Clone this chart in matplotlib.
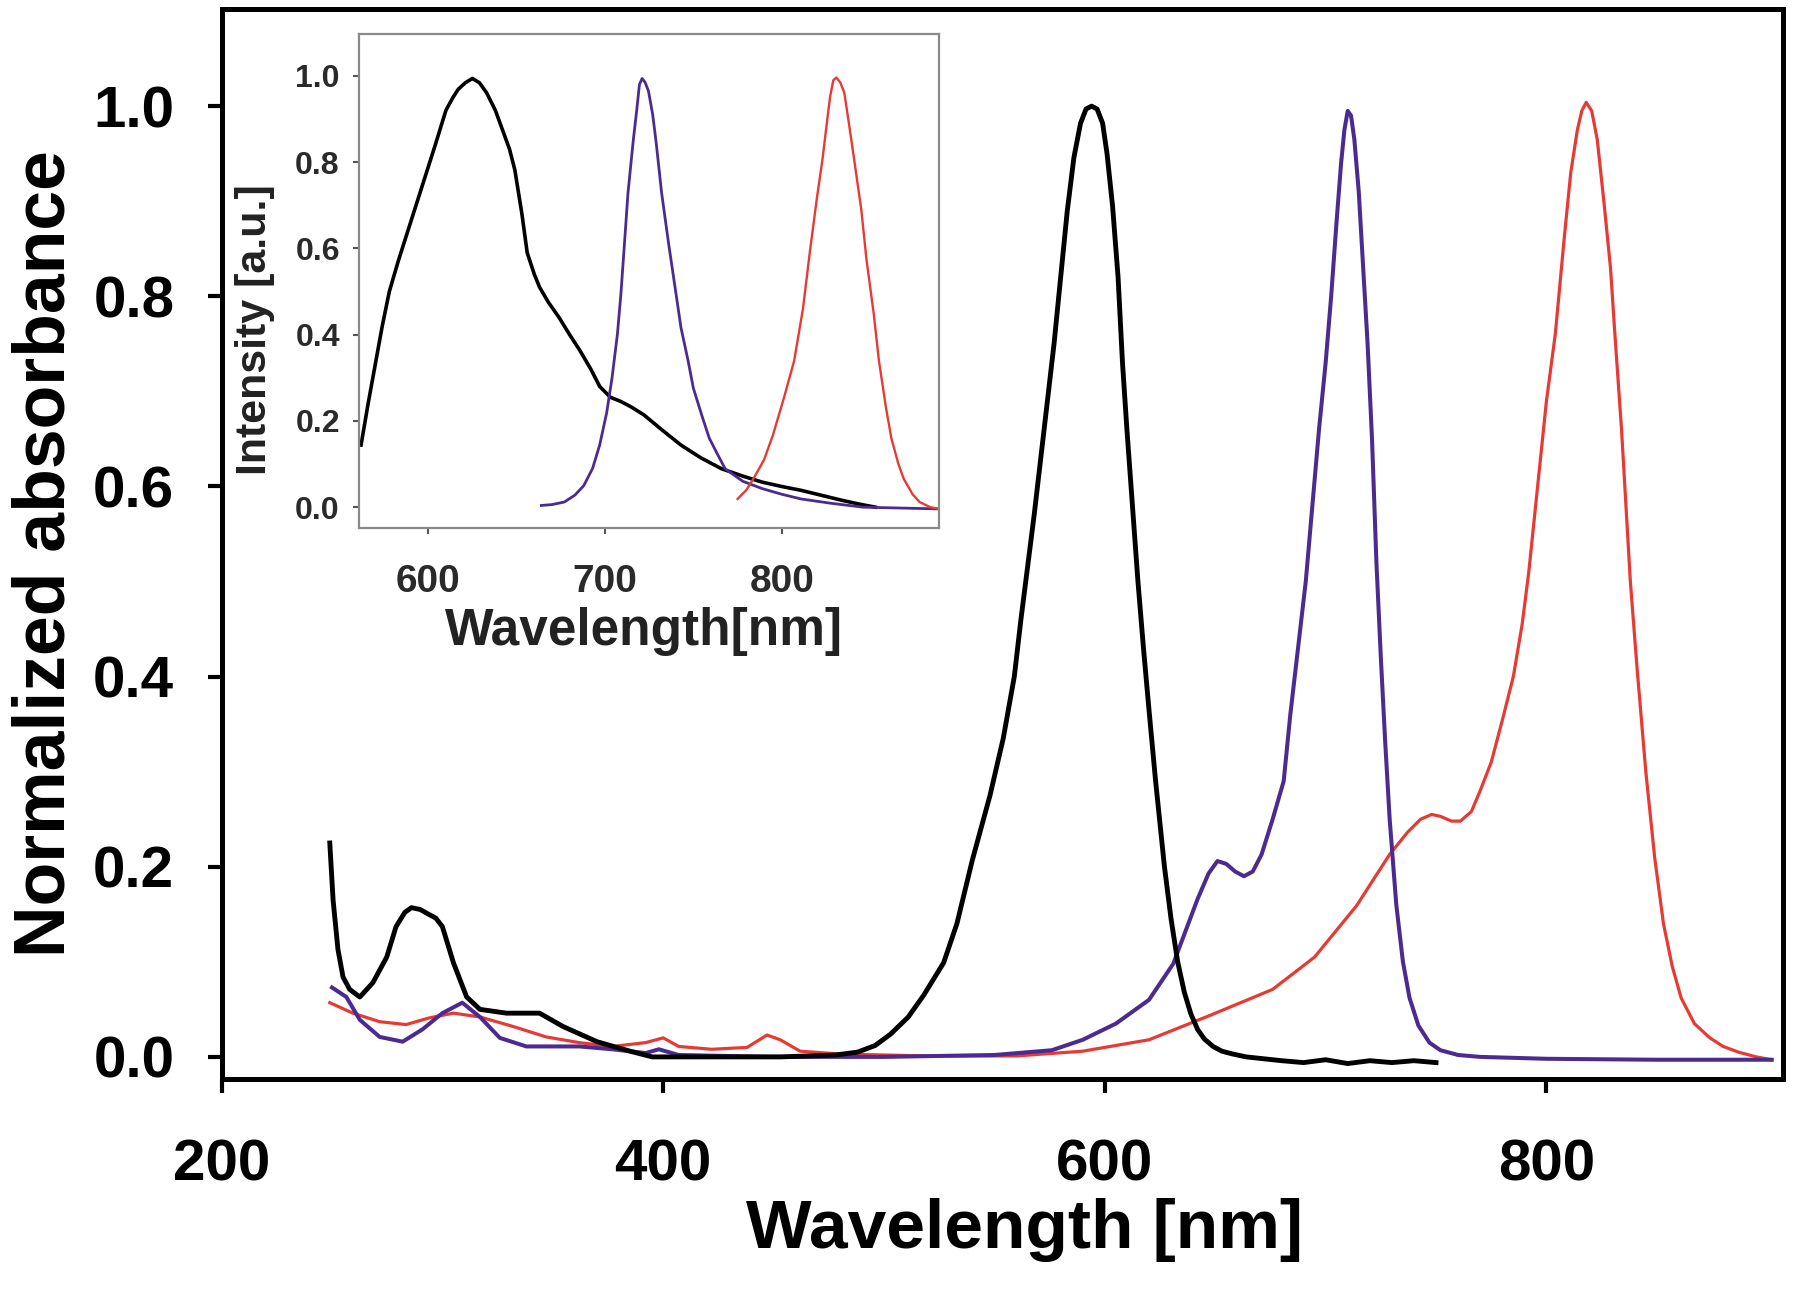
import matplotlib
matplotlib.use("Agg")
import matplotlib.pyplot as plt
from matplotlib.ticker import FormatStrFormatter

plt.rcParams['font.family'] = ['Liberation Sans', 'DejaVu Sans']

# main plot: normalized absorbance
black_x = [249, 250.5, 252.7, 255, 258, 262.6, 268.5, 274.8, 279, 283, 286, 290, 293, 297, 300,
           305, 311, 317, 329, 344, 354.6, 370, 385, 395, 422, 453, 478, 488, 496, 503, 511,
           518, 527, 533, 540, 548, 554, 559, 562, 565, 568, 571, 574, 577, 580, 583, 586, 589,
           591.5, 594, 596.5, 599, 601, 603.5, 606, 608, 610, 612.5, 615, 617.5, 620, 623, 627,
           630, 633, 636, 639, 642, 645, 649, 653, 658, 664, 680, 690, 700, 710, 720, 730, 740,
           750]
black_y = [0.225, 0.165, 0.113, 0.084, 0.071, 0.063, 0.078, 0.105, 0.137, 0.152, 0.157, 0.155,
           0.151, 0.146, 0.137, 0.099, 0.063, 0.05, 0.046, 0.046, 0.032, 0.016, 0.006, 0.0,
           0.0, 0.0, 0.002, 0.005, 0.012, 0.024, 0.042, 0.065, 0.099, 0.14, 0.207, 0.275,
           0.335, 0.40, 0.46, 0.515, 0.57, 0.63, 0.69, 0.75, 0.82, 0.89, 0.946, 0.982, 0.997,
           1.0, 0.997, 0.982, 0.95, 0.895, 0.82, 0.73, 0.66, 0.58, 0.5, 0.43, 0.365, 0.29, 0.2,
           0.145, 0.1, 0.068, 0.045, 0.029, 0.019, 0.011, 0.006, 0.003, 0.0, -0.004, -0.006,
           -0.003, -0.007, -0.004, -0.006, -0.004, -0.006]

blue_x = [250, 256.5, 262.6, 271.6, 282, 291, 300, 309, 317, 326, 338, 350, 362, 377, 392, 398,
          407, 450, 500, 550, 576, 590, 605, 620, 631, 642, 647, 651, 655, 659, 663, 667, 671,
          676, 681, 684, 688, 691, 694, 697, 700, 702.5, 705, 707, 708.5, 710, 711.5, 713, 715,
          717, 719, 721, 723, 725, 727, 729, 732, 735, 738, 742, 747, 752, 760, 770, 800, 850,
          902]
blue_y = [0.073, 0.063, 0.039, 0.021, 0.016, 0.029, 0.046, 0.057, 0.042, 0.02, 0.011, 0.011,
          0.011, 0.008, 0.004, 0.008, 0.002, 0.0, 0.0, 0.002, 0.007, 0.018, 0.035, 0.06, 0.098,
          0.166, 0.193, 0.206, 0.203, 0.195, 0.19, 0.195, 0.213, 0.25, 0.29, 0.36, 0.44, 0.5,
          0.58, 0.66, 0.73, 0.8, 0.88, 0.94, 0.975, 0.995, 0.99, 0.965, 0.91, 0.83, 0.75, 0.65,
          0.52, 0.42, 0.33, 0.25, 0.16, 0.1, 0.062, 0.033, 0.015, 0.007, 0.002, 0.0, -0.002,
          -0.003, -0.003]

red_x = [249, 259.5, 271.6, 283.6, 294, 305, 317, 332, 347, 362, 377, 392, 400, 407, 422, 438,
         447, 453, 462, 480, 520, 560, 590, 620, 648, 676, 695, 714, 729, 737, 743, 748, 752,
         757, 761, 766, 770, 775, 780, 785, 789, 792, 796, 800, 804, 808, 811, 814, 816, 818,
         820.5, 823, 826, 829, 831, 834, 838, 841, 845, 849, 853, 857, 861, 867, 874, 880, 887,
         895, 902]
red_y = [0.057, 0.046, 0.037, 0.034, 0.041, 0.046, 0.042, 0.032, 0.021, 0.015, 0.011, 0.015,
         0.02, 0.011, 0.008, 0.01, 0.023, 0.018, 0.006, 0.003, 0.001, 0.001, 0.006, 0.018,
         0.044, 0.071, 0.105, 0.159, 0.213, 0.236, 0.25, 0.255, 0.253, 0.248, 0.248, 0.258,
         0.28, 0.31, 0.354, 0.40, 0.455, 0.51, 0.6, 0.69, 0.76, 0.86, 0.93, 0.975, 0.995,
         1.004, 0.995, 0.965, 0.9, 0.83, 0.76, 0.66, 0.5, 0.41, 0.3, 0.21, 0.14, 0.095, 0.062,
         0.035, 0.02, 0.011, 0.005, 0.0, -0.003]

# inset: emission intensity
ins_black_x = [562, 566, 570, 574, 578, 583, 590, 597, 604, 610, 614, 617, 621, 625, 629, 633,
               638, 642, 646, 649, 653, 656, 660, 663, 668, 674, 680, 686, 692, 697, 703, 709,
               715, 722, 732, 743, 754, 766, 778, 789, 800, 811, 822, 834, 844, 853]
ins_black_y = [0.144, 0.24, 0.33, 0.42, 0.5, 0.57, 0.66, 0.75, 0.84, 0.92, 0.95, 0.969, 0.984,
               0.994, 0.984, 0.961, 0.92, 0.875, 0.83, 0.782, 0.68, 0.59, 0.54, 0.51, 0.475,
               0.44, 0.40, 0.362, 0.32, 0.28, 0.255, 0.245, 0.232, 0.214, 0.18, 0.144, 0.115,
               0.089, 0.072, 0.058, 0.048, 0.039, 0.028, 0.016, 0.007, 0.0]

ins_blue_x = [664, 670, 677, 683, 688, 693, 697, 701, 704, 707, 709, 711, 713, 716, 718, 719.5,
              721, 722.7, 724.6, 727, 729, 732, 736, 740, 743, 747, 750, 755, 759, 764, 768,
              778, 789, 800, 811, 828, 846, 889]
ins_blue_y = [0.004, 0.006, 0.012, 0.028, 0.05, 0.09, 0.144, 0.22, 0.30, 0.40, 0.494, 0.61,
              0.728, 0.85, 0.922, 0.98, 0.994, 0.985, 0.965, 0.91, 0.844, 0.73, 0.611, 0.5,
              0.416, 0.34, 0.276, 0.21, 0.16, 0.12, 0.089, 0.06, 0.043, 0.03, 0.019, 0.009,
              0.0, -0.004]

ins_red_x = [775, 780, 784, 790, 795, 801, 807, 812, 816, 820, 823, 825.5, 827.4, 829.2, 830.9,
             833.1, 835.4, 838, 841, 845, 848, 852, 855, 859, 862, 866, 869, 874, 878, 884, 889]
ins_red_y = [0.019, 0.04, 0.066, 0.11, 0.167, 0.25, 0.339, 0.46, 0.595, 0.72, 0.805, 0.89,
             0.953, 0.99, 0.996, 0.985, 0.961, 0.89, 0.805, 0.69, 0.572, 0.45, 0.339, 0.23,
             0.16, 0.1, 0.066, 0.03, 0.012, 0.0, -0.004]

main_xticks = [200, 400, 600, 800]
main_yticks = [0.0, 0.2, 0.4, 0.6, 0.8, 1.0]
ins_xticks = [600, 700, 800]
ins_yticks = [0.0, 0.2, 0.4, 0.6, 0.8, 1.0]

blue_c = '#4b2b8f'
red_c = '#e63b34'

fig = plt.figure(figsize=(18, 12.91), dpi=100)

ax = fig.add_axes([0.1231, 0.1644, 0.8673, 0.8285])
ax.plot(red_x, red_y, color=red_c, lw=2.3, solid_joinstyle='round')
ax.plot(blue_x, blue_y, color=blue_c, lw=2.9, solid_joinstyle='round')
ax.plot(black_x, black_y, color='black', lw=3.5, solid_joinstyle='round')
ax.set_xlim(200, 907)
ax.set_ylim(-0.023, 1.102)
ax.set_xticks(main_xticks)
ax.set_yticks(main_yticks)
ax.yaxis.set_major_formatter(FormatStrFormatter('%.1f'))
for sp in ax.spines.values():
    sp.set_linewidth(3.6)
ax.tick_params(axis='both', direction='out', length=10, width=3, labelsize=42)
ax.tick_params(axis='x', pad=33)
ax.tick_params(axis='y', pad=24)
for lab in ax.get_xticklabels() + ax.get_yticklabels():
    lab.set_fontweight('bold')

fig.text(0.0255, 0.5716, 'Normalized absorbance', rotation=90, ha='center', va='center',
         fontsize=51.5, fontweight='bold')
fig.text(0.569, 0.047, 'Wavelength [nm]', ha='center', va='center',
         fontsize=50, fontweight='bold')

# inset
ins = fig.add_axes([0.1996, 0.5911, 0.3221, 0.3822])
ins.plot(ins_black_x, ins_black_y, color='black', lw=2.6, solid_joinstyle='round')
ins.plot(ins_blue_x, ins_blue_y, color=blue_c, lw=2.0, solid_joinstyle='round')
ins.plot(ins_red_x, ins_red_y, color=red_c, lw=1.7, solid_joinstyle='round')
ins.set_xlim(561, 889)
ins.set_ylim(-0.048, 1.096)
ins.set_xticks(ins_xticks)
ins.set_yticks(ins_yticks)
ins.yaxis.set_major_formatter(FormatStrFormatter('%.1f'))
for sp in ins.spines.values():
    sp.set_linewidth(1.6)
    sp.set_color('#8a8a8a')
ins.tick_params(axis='both', direction='out', length=4, width=1.5, color='#555555',
                labelcolor='#2a2a2a')
ins.tick_params(axis='x', labelsize=28, pad=22)
ins.tick_params(axis='y', labelsize=23, pad=10)
for lab in ins.get_xticklabels() + ins.get_yticklabels():
    lab.set_fontweight('bold')

fig.text(0.3578, 0.511, 'Wavelength[nm]', ha='center', va='center',
         fontsize=37, fontweight='bold', color='#222222')
fig.text(0.1416, 0.745, 'Intensity [a.u.]', rotation=90, ha='center', va='center',
         fontsize=31, fontweight='bold', color='#222222')

fig.savefig('out.png', dpi=100)
